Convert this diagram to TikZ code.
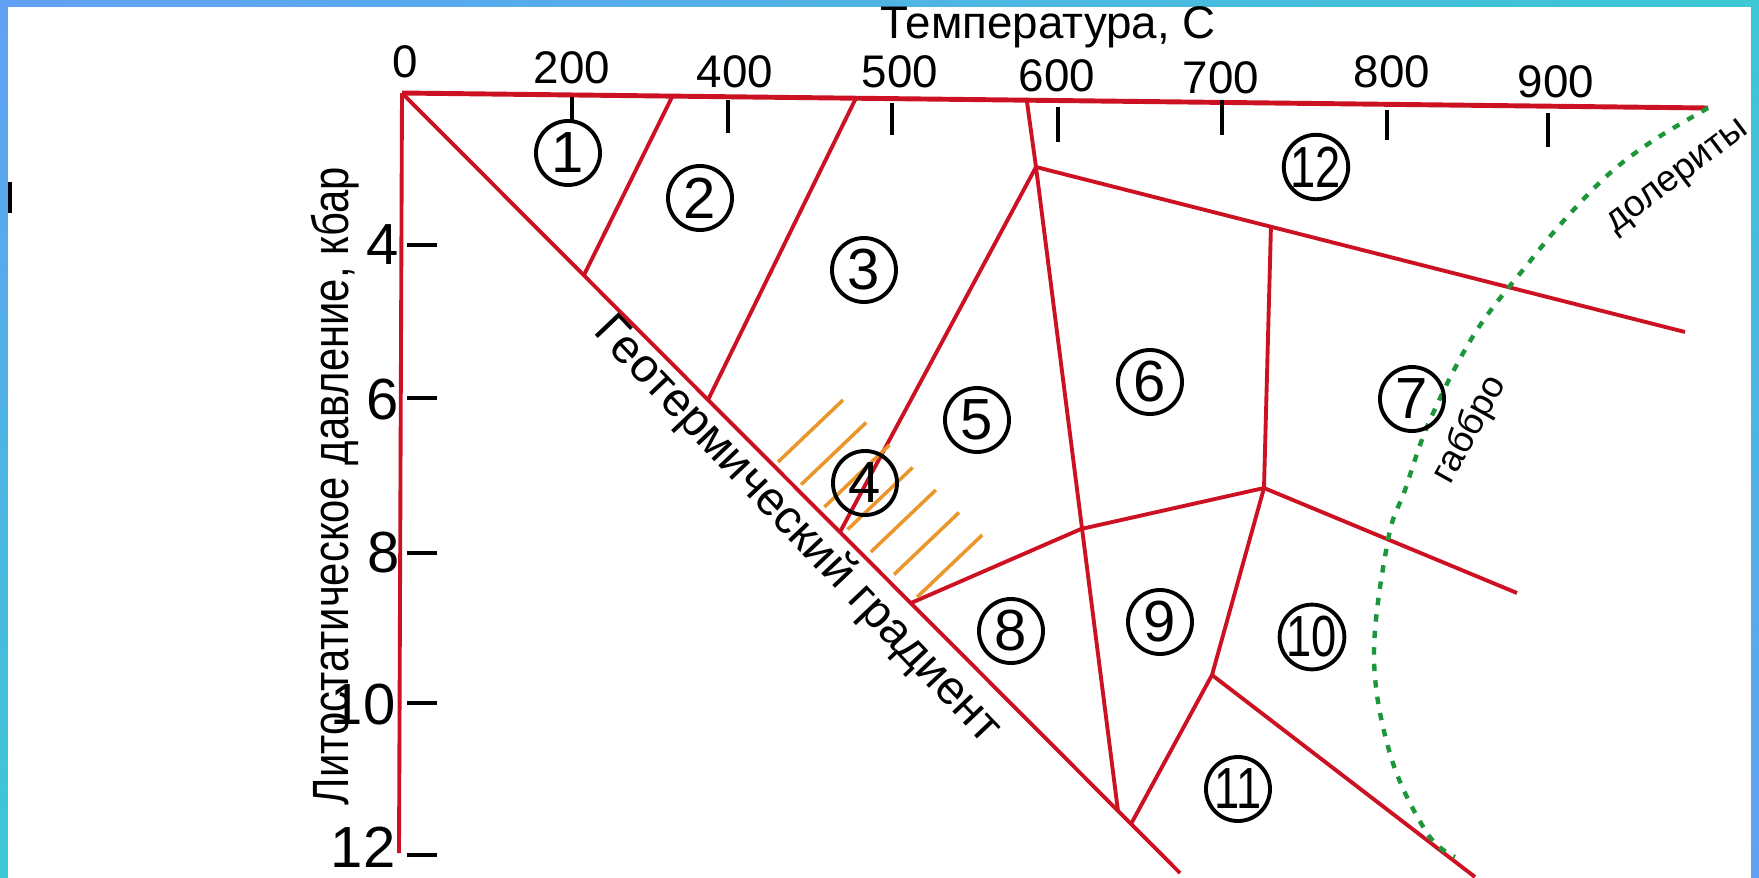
\documentclass[tikz,border=0pt]{standalone}
\usepackage{fontspec}
\setmainfont{Liberation Sans}
\newfontfamily\narrowfont[FakeStretch=0.82]{Liberation Sans}
\usetikzlibrary{positioning}
\definecolor{facies}{RGB}{204,18,34}
\definecolor{hatchor}{RGB}{234,150,42}
\definecolor{rockgr}{RGB}{28,150,58}
\definecolor{frameb}{RGB}{98,160,245}
\definecolor{framec}{RGB}{60,200,212}

\begin{document}
\begin{tikzpicture}[x=0.01cm, y=-0.01cm,
    border/.style={draw=facies, line width=1.1pt},
    tickmark/.style={draw=black, line width=1pt},
    field/.style={circle, draw, line width=1.1pt, minimum size=0.64cm, inner sep=0pt,
        font=\fontsize{16.5}{18}\selectfont},
    toplab/.style={font=\fontsize{13}{15}\selectfont},
    sidelab/.style={anchor=east, inner sep=0pt, font=\fontsize{16.5}{18}\selectfont},
    rocklab/.style={font=\fontsize{10.5}{12}\selectfont}]
    \useasboundingbox (0,0) rectangle (1759,878);
    \fill[white] (0,0) rectangle (1759,878);
    % frame
    \shade[left color=frameb, right color=framec] (0,0) rectangle (1759,6);
    \shade[top color=frameb, bottom color=framec] (0,0) rectangle (8,878);
    \shade[top color=framec, bottom color=frameb] (1751,0) rectangle (1759,878);
    \draw[line width=1.1pt] (10,182) -- (10,213);

    % junctions
    \coordinate (o) at (402,93);
    \coordinate (te) at (1708,108);
    \coordinate (v) at (399,853);
    \coordinate (ge) at (1180,873);
    \coordinate (t1) at (672,97);
    \coordinate (t2) at (856,98);
    \coordinate (t3) at (1027,102);
    \coordinate (j1) at (584,275);
    \coordinate (j2) at (708,400);
    \coordinate (j3) at (840,532);
    \coordinate (j4) at (911,603);
    \coordinate (j5) at (1118,811);
    \coordinate (g) at (1131,824);
    \coordinate (a) at (1036,167);
    \coordinate (b) at (1271,225);
    \coordinate (e12) at (1685,332);
    \coordinate (c) at (1081,529);
    \coordinate (d) at (1264,488);
    \coordinate (e) at (1517,593);
    \coordinate (f) at (1212,675);
    \coordinate (h) at (1475,877);

    % axes
    \draw[border, line width=1.4pt] (o) -- (te);
    \draw[border] (o) -- (v);
    \foreach \x/\p/\q in {572/97/122, 728/100/133, 892/103/135, 1058/107/142,
                          1222/100/135, 1387/110/140, 1548/113/147}
        \draw[tickmark] (\x,\p) -- (\x,\q);
    \foreach \y in {245,398,553,703,855}
        \draw[tickmark] (407,\y) -- (437,\y);
    \foreach \t/\x/\y in {0/405/62, 200/572/68, 400/735/72, 500/900/72,
                          600/1057/76, 700/1221/78, 800/1392/72, 900/1556/82}
        \node[toplab] (l\t) at (\x,\y) {\t};
    \node[sidelab] (p4) at (399,245) {4};
    \node[sidelab] (p6) at (399,400) {6};
    \node[sidelab] (p8) at (400,553) {8};
    \node[sidelab] (p10) at (396,705) {10};
    \node[sidelab] (p12) at (396,847) {12};
    \node[toplab] (temp) at (1048,27) {Температура, С};
    \node[rotate=90, font=\narrowfont\fontsize{14.5}{16}\selectfont] (press) at (335,486)
        {Литостатическое давление, кбар};

    % facies boundaries
    \draw[border] (o) -- (ge);
    \draw[border] (t1) -- (j1);
    \draw[border] (t2) -- (j2);
    \draw[border] (t3) -- (a) -- (e12);
    \draw[border] (a) -- (j3);
    \draw[border] (a) -- (j5);
    \draw[border] (b) -- (d);
    \draw[border] (j4) -- (c) -- (d) -- (e);
    \draw[border] (d) -- (f) -- (g);
    \draw[border] (f) -- (h);
    \node[rotate=-46.5, font=\fontsize{13.5}{15}\selectfont] (grad) at (797,530)
        {Геотермический градиент};

    % hatching near 4
    \foreach \i in {0,...,6}
        \draw[hatchor, line width=1pt] (778+23.2*\i,462+22.5*\i) -- ++(65,-62);

    % gabbro / dolerite line
    \draw[rockgr, line width=1.25pt, dash pattern=on 2.1pt off 2.6pt] plot[smooth, tension=0.6]
        coordinates {(1708,108) (1654,140) (1610,173) (1567,217) (1531,260) (1475,333)
                     (1430,420) (1405,490) (1388,540) (1374,657) (1391,757)
                     (1427,833) (1455,857)};
    \node[rocklab, rotate=37] (doler) at (1679,178) {долериты};
    \node[rocklab, rotate=61] (gabbro) at (1470,430) {габбро};

    % fields
    \node[field] (f1) at (568,153) {1};
    \node[field] (f2) at (700,198) {2};
    \node[field] (f3) at (864,270) {3};
    \node[field] (f4) at (865,483) {4};
    \node[field] (f5) at (977,420) {5};
    \node[field] (f6) at (1150,382) {6};
    \node[field] (f7) at (1412,399) {7};
    \node[field] (f8) at (1011,631) {8};
    \node[field] (f9) at (1160,622) {9};
    \node[field] (f10) at (1312,637) {\scalebox{0.78}[1]{10}};
    \node[field] (f11) at (1238,789) {\scalebox{0.78}[1]{11}};
    \node[field] (f12) at (1316,167) {\scalebox{0.78}[1]{12}};
\end{tikzpicture}
\end{document}
